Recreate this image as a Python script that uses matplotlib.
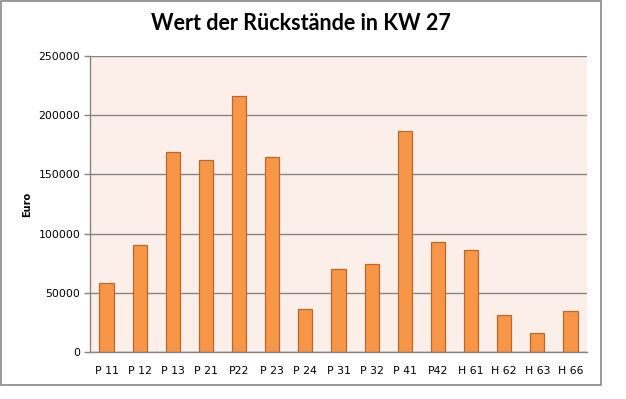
import matplotlib.pyplot as plt
from matplotlib.patches import Rectangle

# Rückstände per Kostenstelle, KW 27
stellen = ['P 11', 'P 12', 'P 13', 'P 21', 'P22', 'P 23', 'P 24', 'P 31',
           'P 32', 'P 41', 'P42', 'H 61', 'H 62', 'H 63', 'H 66']
werte = [58200, 90300, 168700, 162000, 216000, 164500, 36300, 70000,
         74200, 186700, 92800, 86000, 31200, 16000, 34600]
y_ticks = [0, 50000, 100000, 150000, 200000, 250000]

W, H = 626, 399
fig = plt.figure(figsize=(W / 100, H / 100), dpi=100)

# chart border like in Excel
fig.patches.append(Rectangle((1 / W, (H - 385) / H), 600 / W, 384 / H,
                             transform=fig.transFigure, fill=False,
                             edgecolor='#878787', linewidth=1.2))

ax = fig.add_axes([90 / W, (H - 352) / H, 497 / W, 296 / H])
ax.set_facecolor('#FCEEE9')

x = range(len(stellen))
ax.bar(x, werte, width=0.43, color='#F79646', edgecolor='#B8692E',
       linewidth=0.9, zorder=3)

ax.set_xlim(-0.5, len(stellen) - 0.5)
ax.set_ylim(0, 250000)
ax.set_yticks(y_ticks)
ax.set_yticklabels([str(v) for v in y_ticks], fontsize=7.8,
                   family='DejaVu Sans')
ax.set_xticks(list(x))
ax.set_xticklabels(stellen, fontsize=7.8, family='DejaVu Sans')
ax.tick_params(axis='x', length=0, pad=10)
ax.tick_params(axis='y', length=4, color='#868686', pad=3, width=1)

ax.grid(axis='y', color='#868686', linewidth=1, zorder=1)
for s in ['top', 'right']:
    ax.spines[s].set_visible(False)
for s in ['left', 'bottom']:
    ax.spines[s].set_color('#868686')
    ax.spines[s].set_linewidth(1)
    ax.spines[s].set_zorder(4)

ax.set_ylabel('Euro', fontsize=7, fontweight='bold', family='DejaVu Sans',
              va='center')
ax.yaxis.set_label_coords((27 - 90) / 497, 0.5)

fig.text(301 / W, 1 - 23 / H, 'Wert der Rückstände in KW 27',
         ha='center', va='center', fontsize=15.5, fontweight='bold',
         family='Lato')

fig.savefig('out.png', dpi=100)
